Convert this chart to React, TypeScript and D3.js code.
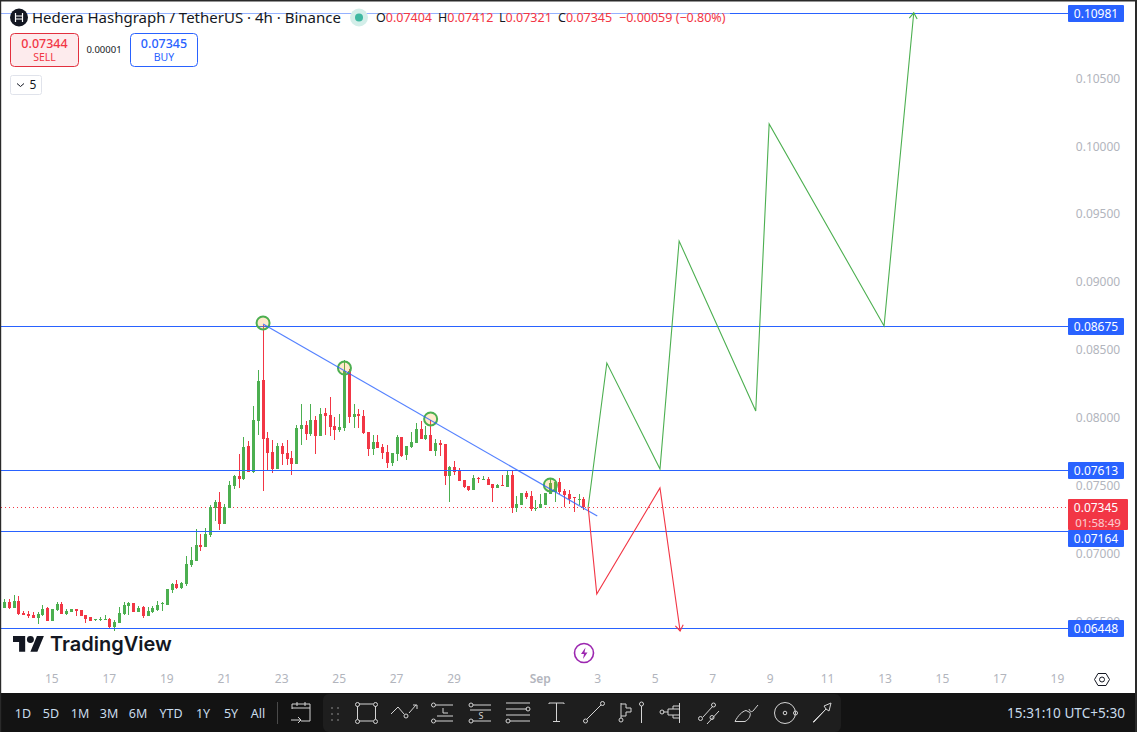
// HBAR/USDT 4h TradingView screenshot redrawn with d3 scales.
import * as d3 from "d3";

const WIDTH = 1137;
const HEIGHT = 732;
const FONT = "'Noto Sans', Roboto, sans-serif";

const GREEN = "#4caf50";
const RED = "#f23645";
const BLUE = "#2962ff";
const TICK_GREY = "#b2b5bd";

// prices in units of 0.00001 USDT, one entry per 4h bar
const opens = [
  6600, 6644, 6600, 6649, 6561, 6553, 6546, 6524, 6546, 6598,
  6502, 6583, 6627, 6553, 6568, 6590, 6583, 6546, 6531, 6509,
  6512, 6512, 6517, 6458, 6487, 6553, 6612, 6634, 6568, 6605,
  6539, 6568, 6583, 6627, 6620, 6730, 6775, 6745,
  6774, 6914, 6944, 7061, 7047, 7135, 7334, 7378, 7216, 7334, 7496, 7570,
  7547, 7790, 7599, 7975, 8277, 7849, 7746, 7621, 7790, 7739,
  7702, 7658, 7916, 7945, 7879, 7982, 7864, 8034, 8019, 7938,
  7908, 7923, 8343, 8004, 8026, 8011, 7894, 7768, 7820, 7783,
  7746, 7665, 7732, 7857, 7724, 7783, 7813, 7916, 7842, 7871, 7754,
  7813, 7806, 7570, 7637, 7615, 7541, 7497, 7467, 7556,
  7541, 7548, 7511, 7482, 7504, 7489, 7578, 7335, 7357, 7445,
  7423, 7327, 7335, 7357, 7438, 7452, 7526, 7460, 7438, 7416, 7394, 7404,
];
const highs = [
  6664, 6664, 6693, 6686, 6575, 6578, 6571, 6571, 6620, 6605,
  6590, 6642, 6642, 6588, 6590, 6590, 6583, 6546, 6531, 6517,
  6531, 6546, 6524, 6509, 6605, 6642, 6642, 6634, 6612, 6612,
  6605, 6612, 6649, 6642, 6738, 6782, 6804, 6789,
  6980, 7047, 7179, 7143, 7187, 7356, 7393, 7452, 7363, 7533, 7577, 7732,
  7857, 7827, 8085, 8350, 8682, 7894, 7835, 7813, 7813, 7835,
  7754, 7945, 8100, 7975, 8100, 8011, 8070, 8070, 8151, 8004,
  8026, 8424, 8358, 8100, 8063, 8056, 7894, 7871, 7871, 7805,
  7798, 7739, 7871, 7857, 7790, 7894, 7960, 7975, 7938, 7982, 7842,
  7835, 7806, 7644, 7681, 7629, 7541, 7497, 7578, 7563,
  7570, 7563, 7511, 7511, 7578, 7615, 7615, 7423, 7445, 7460,
  7460, 7394, 7438, 7445, 7548, 7526, 7556, 7475, 7467, 7416, 7438, 7412,
];
const lows = [
  6595, 6590, 6595, 6546, 6546, 6526, 6521, 6482, 6539, 6502,
  6502, 6575, 6553, 6546, 6568, 6539, 6539, 6487, 6502, 6502,
  6502, 6509, 6443, 6428, 6487, 6546, 6546, 6568, 6568, 6524,
  6539, 6561, 6575, 6575, 6620, 6708, 6738, 6738,
  6760, 6899, 6944, 7017, 7047, 7120, 7238, 7172, 7216, 7334, 7474, 7481,
  7540, 7601, 7592, 7871, 7459, 7614, 7592, 7621, 7651, 7651,
  7577, 7658, 7798, 7835, 7864, 7732, 7864, 7871, 7864, 7835,
  7894, 7901, 7960, 7923, 7923, 7879, 7717, 7724, 7776, 7695,
  7628, 7643, 7680, 7709, 7687, 7776, 7813, 7842, 7835, 7754, 7717,
  7718, 7504, 7379, 7578, 7533, 7482, 7460, 7467, 7519,
  7541, 7504, 7379, 7482, 7497, 7489, 7298, 7305, 7357, 7401,
  7313, 7313, 7335, 7357, 7438, 7379, 7438, 7342, 7364, 7305, 7357, 7321,
];
const closes = [
  6644, 6600, 6649, 6551, 6546, 6539, 6524, 6553, 6590, 6502,
  6590, 6627, 6553, 6575, 6590, 6575, 6539, 6517, 6502, 6517,
  6519, 6517, 6458, 6495, 6561, 6620, 6634, 6568, 6598, 6539,
  6575, 6598, 6620, 6632, 6738, 6775, 6743, 6782,
  6922, 6951, 7061, 7047, 7143, 7341, 7378, 7216, 7341, 7503, 7570, 7548,
  7783, 7601, 7982, 8269, 7842, 7739, 7621, 7790, 7732, 7695,
  7658, 7923, 7945, 7879, 7982, 7864, 8026, 8011, 7930, 7908,
  7930, 8343, 8004, 8026, 8011, 7886, 7768, 7820, 7776, 7739,
  7665, 7739, 7857, 7717, 7790, 7820, 7916, 7842, 7871, 7754, 7813,
  7799, 7570, 7637, 7600, 7533, 7489, 7467, 7556, 7548,
  7548, 7504, 7482, 7504, 7497, 7578, 7335, 7364, 7445, 7416,
  7327, 7335, 7364, 7445, 7516, 7526, 7452, 7430, 7401, 7408, 7401, 7345,
];

const priceTicks = [6500, 7000, 7500, 8000, 8500, 9000, 9500, 10000, 10500];
const levels = [10981, 8675, 7613, 7164, 6448];
const lastPrice = 7345;

// bar index of each date label (bar 10 opens Aug 15, six bars per day)
const timeLabels = ["15", "17", "19", "21", "23", "25", "27", "29", "Sep", "3", "5", "7", "9", "11", "13", "15", "17", "19"];
const timeBars = [10, 22, 34, 46, 58, 70, 82, 94, 112, 124, 136, 148, 160, 172, 184, 196, 208, 220];

// drawings on the chart
const upBars = [122, 125.9, 137, 141, 157, 159.8, 183.8, 190];
const upPrices = [7342, 8402, 7622, 9300, 8049, 10162, 8675, 10981];
const downBars = [122, 123.8, 137, 141.2];
const downPrices = [7342, 6701, 7482, 6429];
const trendBars = [54, 123.8];
const trendPrices = [8689, 7275];
const pivotBars = [54, 71, 89, 114];
const pivotPrices = [8697, 8365, 7990, 7504];

const rangeButtons = ["1D", "5D", "1M", "3M", "6M", "YTD", "1Y", "5Y", "All"];
const rangeCentres = [23, 51, 80, 109, 138, 171, 203, 231, 258];

const x = d3.scaleLinear().domain([0, 220]).range([4.0, 1057.4]);
const y = d3.scaleLinear().domain([7500, 10000]).range([485.5, 146]);
const fmt = (p: number) => (p / 100000).toFixed(5);
const crisp = (v: number) => Math.round(v) + 0.5;

function Arrow({ bars, prices, color }: { bars: number[]; prices: number[]; color: string }) {
  const pts = bars.map((b, i) => [x(b), y(prices[i])] as [number, number]);
  const [ax, ay] = pts[pts.length - 2];
  const [bx, by] = pts[pts.length - 1];
  const a = Math.atan2(by - ay, bx - ax);
  const wing = (d: number) => [bx - 7 * Math.cos(a + d), by - 7 * Math.sin(a + d)] as [number, number];
  const line = d3.line();
  return (
    <g fill="none" stroke={color} strokeWidth={1.1}>
      <path d={line(pts) ?? ""} />
      <path d={line([wing(0.6), [bx, by], wing(-0.6)]) ?? ""} />
    </g>
  );
}

function Candles() {
  return (
    <g shapeRendering="crispEdges">
      {opens.map((o, i) => {
        const c = closes[i];
        const color = c >= o ? GREEN : RED;
        const px = Math.round(x(i));
        const top = Math.round(y(Math.max(o, c)));
        const bot = Math.round(y(Math.min(o, c)));
        const hi = Math.round(y(highs[i]));
        const lo = Math.round(y(lows[i]));
        return (
          <g key={i} fill={color}>
            <rect x={px} y={hi} width={1} height={Math.max(1, lo - hi)} />
            <rect x={px - 1} y={top} width={3} height={Math.max(1, bot - top)} />
          </g>
        );
      })}
    </g>
  );
}

function Header() {
  const ohlc: [string, string, number][] = [
    ["O", "0.07404", 376],
    ["H", "0.07412", 438],
    ["L", "0.07321", 499],
    ["C", "0.07345", 558],
  ];
  return (
    <g fontFamily={FONT}>
      <rect x={1} y={4} width={729} height={26} fill="#fff" opacity={0.5} />
      <circle cx={19} cy={17.5} r={9} fill="#131722" />
      <path d="M15.5 13v9M22.5 13v9M15.5 16h7M15.5 19h7" stroke="#fff" strokeWidth={1.2} fill="none" />
      <text x={32} y={23} fontSize={15} fill="#131722">Hedera Hashgraph / TetherUS · 4h · Binance</text>
      <circle cx={359} cy={17.5} r={9} fill="#d3eee9" />
      <circle cx={359} cy={17.5} r={4} fill="#3fb8a1" />
      {ohlc.map(([k, v, px]) => (
        <text key={k} x={px} y={22} fontSize={12.5} fill="#131722">
          {k}<tspan fill={RED}>{v}</tspan>
        </text>
      ))}
      <text x={619} y={22} fontSize={12.5} fill={RED}>−0.00059 (−0.80%)</text>

      <rect x={10.5} y={33.5} width={68} height={33} rx={4} fill="#fdebed" stroke="#e2303f" />
      <text x={44.5} y={48} fontSize={12.5} fontWeight={500} textAnchor="middle" fill={RED}>0.07344</text>
      <text x={44.5} y={61} fontSize={10.5} textAnchor="middle" fill={RED}>SELL</text>
      <text x={104} y={53} fontSize={9.5} textAnchor="middle" fill="#131722">0.00001</text>
      <rect x={130.5} y={33.5} width={67} height={33} rx={4} fill="#fff" stroke={BLUE} />
      <text x={164} y={48} fontSize={12.5} fontWeight={500} textAnchor="middle" fill={BLUE}>0.07345</text>
      <text x={164} y={61} fontSize={10.5} textAnchor="middle" fill={BLUE}>BUY</text>

      <rect x={10.5} y={75.5} width={31} height={19} rx={2} fill="#fff" stroke="#e0e3eb" />
      <path d="M17 83.5l3.5 3 3.5-3" fill="none" stroke="#131722" />
      <text x={33} y={89} fontSize={12} textAnchor="middle" fill="#131722">5</text>
    </g>
  );
}

function PriceAxis() {
  // the 0.07164 label gets pushed below the countdown box
  const boxY = (p: number) => (p === 7164 ? 530 : Math.round(y(p)) - 8);
  return (
    <g fontFamily={FONT} fontSize={12}>
      {priceTicks.map((p) => (
        <text key={p} x={1098} y={y(p) + 4.5} textAnchor="middle" fill={TICK_GREY}>{fmt(p)}</text>
      ))}
      <rect x={1068} y={499} width={60} height={31} rx={1} fill={RED} />
      <text x={1096} y={512} textAnchor="middle" fill="#fff">{fmt(lastPrice)}</text>
      <text x={1098} y={526.5} fontSize={11.5} textAnchor="middle" fill="#fff" opacity={0.75}>01:58:49</text>
      {levels.map((p) => (
        <g key={p}>
          <rect x={1068} y={boxY(p)} width={56} height={17} rx={1} fill={BLUE} />
          <text x={1096} y={boxY(p) + 13} textAnchor="middle" fill="#fff">{fmt(p)}</text>
        </g>
      ))}
    </g>
  );
}

function TimeAxis() {
  return (
    <g fontFamily={FONT} fontSize={12} fill={TICK_GREY}>
      {timeLabels.map((t, i) => (
        <text key={i} x={x(timeBars[i])} y={683} textAnchor="middle" fontWeight={t === "Sep" ? 600 : 400}>{t}</text>
      ))}
      <g fill="none" stroke="#131722">
        <path d="M1094.5 679.5l3.500-6h8l3.500 6-3.500 6h-8z" />
        <circle cx={1102} cy={679.5} r={2.5} />
      </g>
    </g>
  );
}

function Logo() {
  return (
    <g>
      <g transform="translate(13,632.500) scale(0.87)" fill="#131722">
        <path d="M14 22H7V11H0V4h14v18zM28 22h-8l7.500-18h8L28 22z" />
        <circle cx={20} cy={8} r={4} />
      </g>
      <text x={50} y={651} fontFamily="Inter, Roboto, sans-serif" fontWeight={600} fontSize={20} fill="#131722">TradingView</text>
      <circle cx={584} cy={653} r={9.500} fill="#fff" stroke="#9c27b0" strokeWidth={1.6} />
      <path d="M585.500 647.500l-4.500 6.500h3l-1 5 4.500-6.500h-3z" fill="#9c27b0" />
    </g>
  );
}

function Toolbar() {
  return (
    <g fontFamily={FONT}>
      <rect x={0} y={693} width={WIDTH} height={39} fill="#131313" />
      <rect x={323} y={694} width={518} height={38} rx={6} fill="#1e1e1e" />
      {rangeButtons.map((b, i) => (
        <text key={b} x={rangeCentres[i]} y={718} fontSize={12.5} textAnchor="middle" fill="#c9dcec">{b}</text>
      ))}
      <line x1={277.500} x2={277.500} y1={702} y2={724} stroke="#4a4a4a" />
      <text x={1125} y={718} fontSize={13.6} textAnchor="end" fill="#c9dcec">15:31:10 UTC+5:30</text>
      <g fill="none" stroke="#d4d4d4" strokeWidth={1}>
        {/* date range */}
        <path d="M292 709v-5h18v17h-9M292 708h18M297 702v4M305 702v4M291 720h10M298 717l3 3-3 3" />
        {/* grip */}
        <path d="M332 707v2M332 713v2M332 719v2M338 707v2M338 713v2M338 719v2" stroke="#555" strokeWidth={2} />
        {/* rectangle */}
        <path d="M359 704h14M359 721h14M357.500 706v13M375.500 706v13" />
        <circle cx={357.500} cy={704.500} r={2} /><circle cx={375.500} cy={704.500} r={2} />
        <circle cx={357.500} cy={721.500} r={2} /><circle cx={375.500} cy={721.500} r={2} />
        {/* polyline */}
        <path d="M391 714l7-7 6 7M409 713l7-8M413 705h4v4" />
        <circle cx={406} cy={716} r={2} />
        {/* long */}
        <path d="M436 705h17M436 721h17M437 716h16M443 708v5h5" />
        <circle cx={433.500} cy={705} r={2} /><circle cx={433.500} cy={721} r={2} />
        {/* short */}
        <path d="M473 705h18M473 721h18M470 710h21" />
        <circle cx={471} cy={705} r={2} /><circle cx={471} cy={721} r={2} />
        <text x={481} y={719} fontSize={9} fill="#d4d4d4" stroke="none" textAnchor="middle">S</text>
        {/* parallel lines */}
        <path d="M506 703h24M506 709h21M506 715h24M510 721h20" />
        <circle cx={528} cy={709} r={2} /><circle cx={508} cy={721} r={2} />
        {/* text */}
        <path d="M549 704v-1h15v1M556.500 703v18M553 721.500h7" />
        {/* trend line */}
        <path d="M587 719l14-14" />
        <circle cx={585.500} cy={721} r={2} /><circle cx={602.500} cy={703.500} r={2} />
        {/* fib */}
        <path d="M621 703v15M621 704h5v4h5v4h-5v4h-5" />
        <circle cx={621} cy={720} r={2} /><circle cx={641.500} cy={704} r={2} /><path d="M641.500 706v17" />
        {/* volume profile */}
        <path d="M679.500 703v20M663 712h5v-3h5v-3h6M668 712v3h5v3h6M673 709h6M673 715h6" />
        <circle cx={662} cy={712} r={2} />
        {/* forecast */}
        <path d="M703 717l10-11M707 724l12-13" />
        <circle cx={700.500} cy={718.500} r={2} /><circle cx={713.500} cy={705} r={2} /><circle cx={712} cy={717.500} r={2} />
        {/* brush */}
        <path d="M735 721.500h10c4-2 6-6 5-9l-4-2c-4 1-8 5-11 11zM749 709c1 3 3 3 4 2l5-6" />
        {/* target */}
        <circle cx={785} cy={713} r={10.500} /><circle cx={785} cy={713} r={1.800} /><circle cx={795.500} cy={713} r={2} />
        {/* arrow */}
        <path d="M813 722l13-13-2-3 7-3-2 8-3-2-12 13z" />
      </g>
    </g>
  );
}

export default function App() {
  const w = 1068;
  return (
    <svg width={WIDTH} height={HEIGHT} viewBox={`0 0 ${WIDTH} ${HEIGHT}`} style={{ position: "absolute", top: 0, left: 0, display: "block", background: "#fff" }}>
      <line x1={1} x2={w} y1={crisp(y(lastPrice))} y2={crisp(y(lastPrice))} stroke={RED} strokeDasharray="1 3" />
      <Candles />
      <TimeAxis />
      <Logo />
      {levels.map((p) => (
        <line key={p} x1={1} x2={w} y1={crisp(y(p))} y2={crisp(y(p))} stroke={BLUE} />
      ))}
      {pivotBars.map((b, i) => (
        <circle key={b} cx={x(b) + 0.5} cy={y(pivotPrices[i])} r={6.500} fill="#ff9800" fillOpacity={0.2} stroke={GREEN} strokeWidth={2} />
      ))}
      <line x1={x(trendBars[0]) + 0.5} x2={x(trendBars[1]) + 0.5} y1={y(trendPrices[0])} y2={y(trendPrices[1])} stroke={BLUE} strokeOpacity={0.8} strokeWidth={1.2} />
      <Arrow bars={upBars} prices={upPrices} color={GREEN} />
      <Arrow bars={downBars} prices={downPrices} color={RED} />
      <PriceAxis />
      <Header />
      <Toolbar />
      {/* window frame */}
      <rect x={0} y={0} width={WIDTH} height={1.500} fill="#2a2a2a" />
      <rect x={0} y={0} width={1.200} height={HEIGHT} fill="#2a2a2a" />
      <rect x={1135} y={0} width={2} height={HEIGHT} fill="#2a2a2a" />
    </svg>
  );
}
